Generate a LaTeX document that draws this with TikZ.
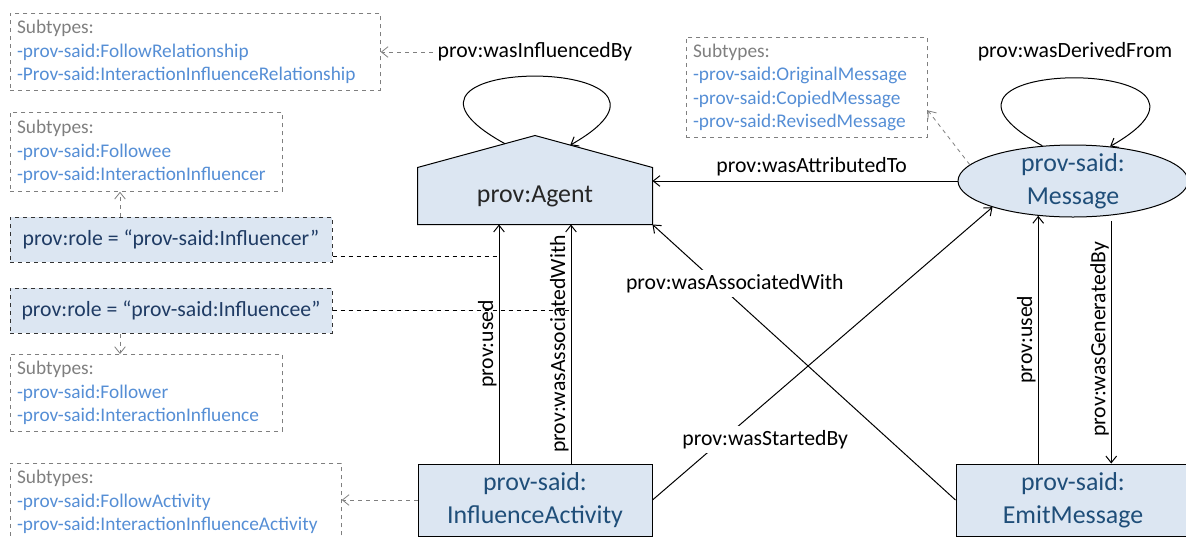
\documentclass[tikz,border=0pt]{standalone}
\usepackage{fontspec}
\setmainfont{Carlito}
\usetikzlibrary{positioning, arrows.meta, shapes.geometric, calc, backgrounds}
\definecolor{nodefill}{HTML}{DCE6F2}
\definecolor{nodetext}{HTML}{1F4E79}
\definecolor{roletext}{HTML}{1F3B64}
\definecolor{subblue}{HTML}{558ED5}
\definecolor{subgray}{HTML}{7F7F7F}
\newcommand{\subtype}[1]{\textcolor{subblue}{#1}}

\begin{document}
\begin{tikzpicture}[x=0.75pt, y=-0.75pt,
    >={Straight Barb[length=5pt,width=8pt]},
    rel/.style={->, line width=0.75pt},
    note/.style={->, dashed, draw=subgray, line width=0.6pt},
    roleline/.style={dashed, line width=0.75pt},
    mainbox/.style={rectangle, draw, fill=nodefill, text=nodetext, line width=0.75pt,
        minimum width=175.5pt, minimum height=54pt, inner sep=0pt, align=center,
        font=\fontsize{19.4}{25}\selectfont},
    msgbox/.style={mainbox, ellipse, minimum width=172.5pt, inner ysep=-5pt},
    rolebox/.style={rectangle, draw=black!80, dashed, fill=nodefill, text=roletext,
        line width=0.75pt, minimum width=241.5pt, minimum height=33.75pt,
        font=\fontsize{16.3}{19}\selectfont},
    subbox/.style={rectangle, draw=subgray, dashed, text=subgray, line width=0.6pt,
        align=left, inner xsep=5pt, anchor=north west,
        font=\fontsize{14.5}{17.6}\selectfont},
    lbl/.style={font=\fontsize{16.3}{19}\selectfont},
    vlbl/.style={lbl, rotate=90, anchor=south, midway, inner sep=1.5pt}]
    \useasboundingbox (0,0) rectangle (1186,537);

    % Nodes
    \node (agent) [mainbox, draw=none, fill=none, text=black!85, minimum height=42pt] at (535,196) {prov:Agent};
    \node (msg) [msgbox] at (1073,181) {prov-said:\\Message};
    \node (act) [mainbox] at (535,500) {prov-said:\\InfluenceActivity};
    \node (emit) [mainbox] at (1073,500) {prov-said:\\EmitMessage};

    \coordinate (roof) at ($(agent.north)+(0,-32)$);
    \begin{scope}[on background layer]
        \filldraw[fill=nodefill, line width=0.75pt] (agent.south west) -- (agent.north west)
            -- (roof) -- (agent.north east) -- (agent.south east) -- cycle;
    \end{scope}

    \node (rinfl) [rolebox] at (171,239.5) {prov:role = “prov-said:Influencer”};
    \node (rinfe) [rolebox] at (171,310.5) {prov:role = “prov-said:Influencee”};

    \node (sub1) [subbox, text width=267.5pt, minimum height=57.75pt] at (10,13)
        {Subtypes:\\\subtype{-prov-said:FollowRelationship}\\\subtype{-Prov-said:InteractionInfluenceRelationship}};
    \node (sub2) [subbox, text width=194pt, minimum height=59.25pt] at (10,112)
        {Subtypes:\\\subtype{-prov-said:Followee}\\\subtype{-prov-said:InteractionInfluencer}};
    \node (sub3) [subbox, text width=194pt, minimum height=57.75pt] at (10,354)
        {Subtypes:\\\subtype{-prov-said:Follower}\\\subtype{-prov-said:InteractionInfluence}};
    \node (sub4) [subbox, text width=238.25pt, minimum height=57.75pt] at (10,463)
        {Subtypes:\\\subtype{-prov-said:FollowActivity}\\\subtype{-prov-said:InteractionInfluenceActivity}};
    \node (sub5) [subbox, text width=170.75pt, minimum height=75pt] at (686,37)
        {Subtypes:\\\subtype{-prov-said:OriginalMessage}\\\subtype{-prov-said:CopiedMessage}\\\subtype{-prov-said:RevisedMessage}};

    \node (lblinfl) [lbl] at (535,52) {prov:wasInfluencedBy};
    \node (lblderiv) [lbl] at (1075,52) {prov:wasDerivedFrom};

    % Loops
    \coordinate (inflA) at ($(agent.north west)!0.744!(roof)$);
    \coordinate (inflB) at ($(roof)!0.3!(agent.north east)$);
    \draw[rel] (inflA) .. controls +(-165,-91) and +(160,-91) .. (inflB);
    \draw[rel] (msg.131) .. controls +(-165,-91) and +(160,-91) .. (msg.43);

    % Arrows
    \coordinate (usedfoot) at ([xshift=-27pt]act.north);
    \coordinate (assocfoot) at ([xshift=27pt]act.north);
    \draw[rel] (msg.west) -- (msg.west -| agent.east) node[lbl, midway, above, xshift=5pt] {prov:wasAttributedTo};
    \draw[rel] (usedfoot) -- ([xshift=-27pt]agent.south) node[vlbl] {prov:used};
    \draw[rel] (assocfoot) -- ([xshift=27pt]agent.south) node[vlbl] {prov:wasAssociatedWith};
    \draw[rel] (emit.west) -- (agent.south east)
        node[lbl, fill=white, pos=0.754, xshift=5.85pt, yshift=6.45pt] {prov:wasAssociatedWith};
    \draw[rel] (act.east) -- (msg.-162)
        node[lbl, fill=white, pos=0.278, xshift=13.6pt, yshift=-15.75pt] {prov:wasStartedBy};
    \draw[rel] (emit.north -| msg.-135) -- (msg.-135) node[vlbl] {prov:used};
    \draw[rel, shorten <=4pt] (msg.-42) -- (msg.-42 |- emit.north) node[vlbl] {prov:wasGeneratedBy};

    % Roles
    \draw[roleline] ([yshift=-12.4pt]rinfl.east) -- ([yshift=-12.4pt]rinfl.east -| usedfoot);
    \draw[roleline] (rinfe.east) -- (rinfe.east -| assocfoot);

    % Subtype notes
    \draw[note] (lblinfl.west) -- (lblinfl.west -| sub1.east);
    \draw[note] ([xshift=-38.25pt]rinfl.north) -- ([xshift=-38.25pt]rinfl.north |- sub2.south);
    \draw[note] ([xshift=-38.25pt]rinfe.south) -- ([xshift=-38.25pt]rinfe.south |- sub3.north);
    \draw[note] (act.west) -- (act.west -| sub4.east);
    \draw[note] (msg.171) -- ([yshift=-17.25pt]sub5.east);
\end{tikzpicture}
\end{document}
